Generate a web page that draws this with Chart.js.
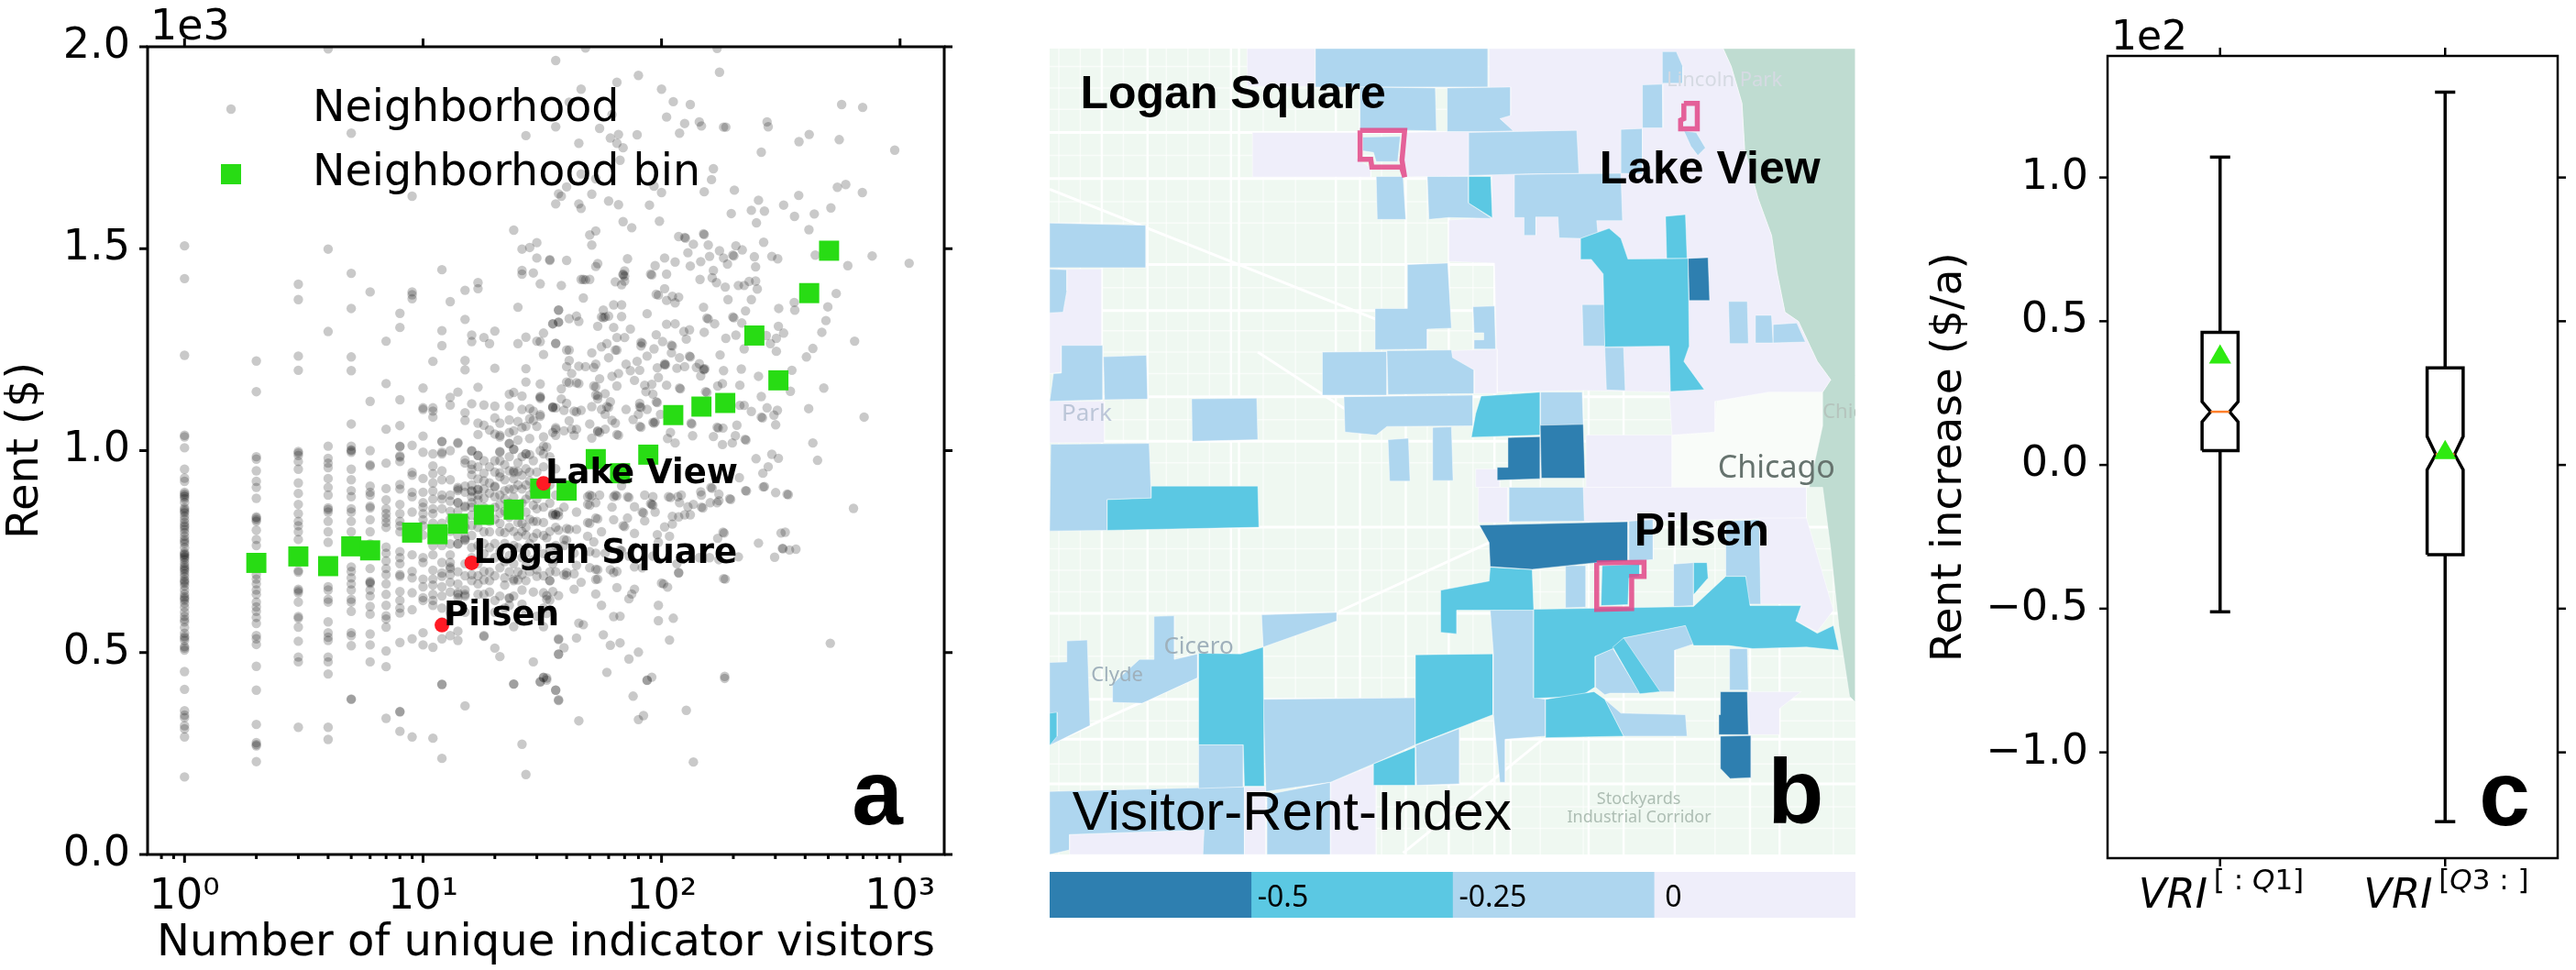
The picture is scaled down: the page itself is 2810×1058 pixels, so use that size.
<!DOCTYPE html>
<html>
<head>
<meta charset="utf-8">
<title>Rent and visitors</title>
<script src="https://cdn.jsdelivr.net/npm/chart.js@4/dist/chart.umd.min.js"></script>
<style>
  html, body { margin: 0; background: #fff; }
  canvas { position: absolute; display: block; }
</style>
</head>
<body>
<canvas id="scatterChart" width="1110" height="1058" style="left:0;top:0"></canvas>
<canvas id="mapChart" width="879" height="879" style="left:1145px;top:53px"></canvas>
<canvas id="scaleChart" width="879" height="50" style="left:1145px;top:951px"></canvas>
<canvas id="boxChart" width="730" height="1058" style="left:2080px;top:0"></canvas>
<script>
// ---------------------------panel a data------------------------------------------------
// rent ($) of neighborhoods with a low count of visitors, one list per count
const rentAt1 = [1507,1426,1236,1038,1034,1007,954,932,924,897,893,889,886,881,872,858,854,850,846,838,830,822,815,811,805,797,788,780,775,770,760,748,744,742,738,735,730,722,715,710,706,702,695,688,680,676,672,665,655,645,638,634,630,622,612,600,590,582,576,562,548,540,536,530,515,511,506,453,409,356,345,339,319,311,291,192];
const rentAt2 = [1222,1146,985,979,950,924,909,882,836,833,829,825,803,780,765,693,682,670,655,644,625,613,602,587,572,542,534,520,466,407,322,277,272,269,230];
const rentAt3 = [1412,1374,1234,1199,998,994,988,973,954,920,894,867,844,825,814,799,780,703,699,657,653,648,625,589,585,563,528,489,477,315];
const rentAt4 = [1995,1499,1295,1011,981,969,958,931,909,890,858,854,848,825,799,773,663,655,632,625,576,549,538,530,489,477,447,315,285];
const rentAt5 = [1786,1439,1352,1232,1198,1066,1011,1002,996,1000,954,928,901,886,856,848,825,799,765,712,701,685,670,655,632,625,602,549,542,517,385,384];
const rentAt6 = [1393,1122,1000,965,962,912,897,890,862,858,829,799,769,708,676,674,671,655,640,614,595,546,519,477];
const rentAt7 = [1271,1166,1053,969,906,878,856,844,833,822,810,761,746,727,708,693,670,644,617,591,583,563,504,465,337];
const rentAt8 = [1340,1305,1126,1062,1010,987,1011,984,973,916,905,867,844,825,814,799,750,735,720,693,689,651,629,610,598,525,354,353,305];
const rentAt9 = [1630,1393,1386,1376,1013,946,939,897,886,848,742,701,685,648,606,534,291];
const rentAt10 = [1155,1106,1102,1036,996,931,897,871,860,844,829,814,791,735,723,682,663,636,629,549,519];
const rentAt11 = [1221,1106,1098,1083,992,962,943,920,900,880,856,844,820,795,765,742,704,682,667,644,629,617,513,288];
const rentAt12 = [1448,1297,1260,1023,992,1022,996,950,928,890,880,856,820,800,765,723,697,689,663,640,610,576,534,421,238,421];
const rentAt13 = [1369,1132,1113,1000,928,890,875,850,830,800,769,742,723,712,693,674,650,598,542];
const rentAt14 = [1145,1020,1018,909,901,871,850,830,790,769,700,670,648,636,553,530];
const rentAt15 = [1397,1325,1223,1200,1094,1075,977,969,912,897,863,860,830,810,784,720,690,655,640,600,368];
const lowCounts = [1,2,3,4,5,6,7,8,9,10,11,12,13,14,15];
const lowCountRents = [rentAt1,rentAt2,rentAt3,rentAt4,rentAt5,rentAt6,rentAt7,rentAt8,rentAt9,rentAt10,rentAt11,rentAt12,rentAt13,rentAt14,rentAt15];

const cloudTop = [[48,1997],[171,1996],[36,1966],[65,1912],[80,1929],[175,1937],[46,1895],[100,1895],[112,1864],[132,1857],[41,1863],[62,1832],[105,1826],[36,1802],[55,1798],[66,1783],[79,1782],[61,1774],[65,1761],[45,1761],[69,1750],[125,1810],[144,1814],[147,1804],[119,1786],[182,1801],[186,1801],[277,1814],[280,1802],[569,1857],[697,1850],[416,1783],[377,1765],[556,1770],[262,1739],[950,1744],[67,1719],[46,1685],[53,1673],[165,1698],[162,1671],[202,1645],[151,1641],[93,1655],[100,1639],[40,1653],[37,1636],[38,1630],[36,1611],[45,1611],[46,1600],[51,1635],[60,1618],[66,1609],[89,1608],[27,1780]];
const cloudUpper = [[69,1567],[75,1552],[98,1568],[255,1620],[238,1595],[270,1593],[196,1587],[250,1564],[325,1608],[361,1580],[437,1586],[513,1601],[376,1632],[546,1652],[592,1659],[695,1639],[415,1547],[53,1544],[50,1534],[51,1509],[118,1530],[125,1528],[126,1526],[150,1537],[151,1535],[136,1511],[157,1509],[129,1490],[175,1495],[205,1507],[218,1497],[199,1484],[201,1482],[182,1477],[159,1481],[189,1462],[245,1480],[268,1516],[290,1481],[307,1475],[441,1484],[248,1455],[604,1458],[764,1482],[1092,1464],[40,1471],[34,1471],[72,1475],[54,1463],[53,1456],[103,1477],[114,1467],[94,1458],[146,1468],[132,1457],[165,1446],[70,1445],[69,1437],[69,1435],[70,1432],[90,1437],[91,1435],[105,1437],[46,1424],[47,1424],[48,1423],[50,1424],[64,1418],[68,1411],[70,1420],[38,1409],[145,1424],[163,1428],[170,1416],[185,1405],[210,1409],[222,1409],[233,1419],[248,1420],[252,1400],[103,1401],[95,1387],[97,1385],[111,1382],[118,1380],[105,1372],[114,1366],[47,1378],[190,1374],[238,1374],[540,1389],[360,1367],[362,1348],[310,1352],[498,1356],[37,1348],[63,1361],[68,1361],[57,1348],[44,1333],[41,1327],[45,1320],[37,1318],[35,1314],[56,1331],[57,1329],[58,1331],[60,1333],[68,1332],[87,1339],[150,1355],[155,1328],[157,1326],[199,1331],[201,1329],[225,1346],[217,1316],[167,1314],[105,1313],[114,1314],[489,1322],[309,1308],[54,1308],[63,1305],[74,1301]];
const cloudLeft = [[16,1286],[16,1270],[17,1416],[17,1401],[18,1280],[19,1265],[20,1296],[20,1204],[17,1157],[16,1116],[18,1113],[20,1110],[23,1110],[23,1140],[24,1144],[26,1135],[27,1170],[27,1203],[31,1165],[32,1238],[25,1265],[27,1281],[30,1271],[31,1270],[32,1291],[35,1314],[36,1265],[37,1318],[24,1546],[26,1499],[28,1503],[30,1515],[30,1477],[34,1473],[26,1446],[26,1437],[29,1440],[31,1413],[25,1355],[37,1348],[17,1068],[18,1063],[19,1051],[20,1081],[21,1068],[23,1076],[20,1041],[21,1038],[21,1034],[23,1045],[24,1049],[25,1072],[26,1057],[27,1060],[25,1026],[28,1030],[23,1017],[24,1004],[21,998],[17,1040],[16,999],[17,988],[27,992],[31,1000],[32,1034],[36,1057],[36,1038],[26,1102],[28,1104],[29,1098],[28,1079],[31,1134],[31,1132],[31,1129],[31,1089],[31,1085],[35,1108],[35,1106],[30,1060],[29,1075]];
const cloudMiddle = [[95,1287],[124,1295],[131,1299],[151,1293],[186,1278],[205,1286],[275,1285],[325,1291],[303,1278],[470,1293],[645,1271],[286,1265],[303,1246],[431,1253],[405,1232],[222,1252],[36,1266],[41,1249],[40,1249],[51,1242],[56,1257],[59,1265],[64,1249],[65,1249],[65,1280],[70,1280],[82,1268],[83,1266],[82,1259],[93,1252],[101,1270],[110,1261],[111,1259],[110,1242],[127,1276],[119,1230],[131,1234],[132,1232],[176,1237],[87,1234],[60,1230],[41,1223],[40,1208],[45,1209],[48,1208],[52,1206],[53,1214],[71,1214],[79,1221],[74,1198],[81,1199],[96,1205],[103,1215],[104,1213],[103,1212],[116,1204],[125,1208],[140,1206],[144,1215],[150,1202],[151,1200],[152,1203],[146,1185],[182,1198],[216,1202],[255,1184],[352,1199],[42,1191],[62,1184],[66,1191],[55,1178],[40,1170],[41,1168],[44,1168],[45,1166],[38,1153],[52,1160],[53,1158],[65,1160],[77,1174],[85,1162],[91,1164],[97,1181],[105,1162],[119,1155],[120,1153],[172,1160],[180,1166],[213,1162],[262,1134],[153,1146],[155,1144],[86,1146],[92,1140],[53,1138],[54,1136],[58,1141],[54,1128],[38,1128],[61,1121],[95,1121],[96,1119],[81,1117],[40,1117],[51,1109],[56,1102],[59,1109],[60,1107],[35,1108],[36,1106],[39,1100],[43,1098],[44,1096],[46,1100],[71,1102],[81,1109],[82,1107],[87,1102],[99,1090],[58,1090],[76,1077],[62,1075],[41,1074],[80,1090],[92,1070],[93,1068],[94,1071],[81,1060],[82,1058],[50,1066],[64,1068],[36,1053],[39,1049],[42,1053],[44,1053],[35,1045],[43,1038],[54,1047],[55,1045],[54,1049],[58,1053],[65,1040],[66,1038],[51,1031],[109,1045],[106,1030],[114,1019],[133,1068],[134,1066],[135,1037],[171,1058],[173,1056],[181,1056],[207,1063],[165,1035],[204,1037],[198,1019],[180,1015],[224,1028],[226,1026],[301,1064],[213,1112],[222,1112],[238,1097],[262,1083],[265,1081],[277,1106],[296,1088],[306,1100],[414,1104],[707,1083],[347,1147],[479,1155],[431,1019],[451,976],[249,980],[290,991],[309,981],[280,960],[266,944],[212,933],[270,911],[225,901],[301,896],[340,891],[638,857],[193,881],[195,879],[174,892],[161,909],[163,907],[146,898],[147,890],[171,871],[160,871],[147,860],[149,858],[136,867],[129,861],[121,890],[107,886],[109,884],[117,886],[119,871],[92,886],[85,890],[91,867],[92,865],[90,869],[94,848],[83,848],[84,846],[85,826],[72,886],[73,884],[77,861],[72,833],[64,890],[65,888],[63,886],[68,913],[55,890],[50,890],[51,888],[49,886],[53,871],[49,867],[50,865],[44,848],[53,833],[54,831],[49,822],[50,820],[63,829],[69,814],[70,812],[62,860],[39,860],[36,841],[37,839],[40,807],[41,805],[44,805],[56,799],[49,788],[39,780],[40,778],[52,774],[67,754],[68,752],[77,795],[96,792],[108,788],[103,811],[111,818],[118,836],[125,841],[132,841],[111,837],[181,798],[183,796],[172,783],[330,798],[255,771],[323,757],[366,756],[298,736],[118,697],[182,683],[100,672],[53,681],[46,674],[39,693],[40,691],[43,695],[50,710],[54,705],[61,705],[65,701],[77,712],[83,710],[53,746],[58,746],[50,750],[73,739],[116,720],[92,739],[97,773],[144,735],[159,735],[174,730],[210,737],[44,716],[35,720],[37,758],[39,765],[43,746]];
const cloudDense = [[17,988],[16,1000],[21,996],[23,1018],[24,1003],[27,992],[28,990],[32,1011],[33,1009],[32,992],[24,950],[25,948],[24,946],[20,947],[21,945],[18,944],[16,954],[22,928],[26,939],[28,947],[30,947],[14,905],[16,901],[16,899],[17,905],[17,903],[18,882],[20,912],[20,910],[20,886],[22,901],[24,905],[17,878],[14,871],[16,871],[21,867],[27,848],[30,856],[35,844],[36,842],[35,840],[32,822],[25,822],[26,820],[21,799],[22,797],[29,825],[37,848],[18,799],[15,780],[15,778],[19,799],[25,788],[27,791],[30,795],[33,784],[37,803],[24,765],[27,746],[36,731],[14,769],[16,693],[13,708],[16,678],[17,670],[18,701],[19,678],[22,685],[24,682],[25,680],[24,678],[26,693],[27,678],[30,689],[34,678],[26,655],[22,667],[32,648],[35,651],[33,632],[14,644],[15,644],[17,644],[18,644],[20,629],[23,636],[23,634],[23,617],[24,564],[32,564],[18,542],[20,511],[21,490],[37,534],[37,496],[29,477],[32,439],[33,437],[31,428],[24,422],[36,407],[37,383],[18,540]];
const cloudCore = [[16,965],[16,940],[16,915],[16,885],[16,860],[16,840],[16,815],[16,790],[16,760],[16,735],[17,960],[17,930],[17,890],[17,855],[17,830],[17,810],[17,765],[17,720],[17,690],[18,975],[18,925],[18,905],[18,860],[18,835],[18,770],[18,745],[18,680],[19,960],[19,920],[19,895],[19,850],[19,825],[19,760],[19,700],[19,650],[20,975],[20,860],[20,830],[20,770],[20,735],[20,690],[20,600],[21,975],[21,935],[21,890],[21,845],[21,820],[21,750],[21,710],[21,640],[22,965],[22,880],[22,850],[22,770],[22,725],[22,610],[23,985],[23,950],[23,905],[23,870],[23,835],[23,810],[23,740],[23,700],[24,930],[24,885],[24,855],[24,800],[24,720],[24,640],[25,970],[25,915],[25,860],[25,760],[25,700],[26,985],[26,905],[26,870],[26,800],[26,735],[26,620],[27,955],[27,915],[27,880],[27,810],[27,715],[27,600],[28,925],[28,890],[28,830],[28,770],[28,700],[29,975],[29,905],[29,865],[29,785],[29,730],[29,650],[30,915],[30,880],[30,825],[30,760],[30,705],[30,590],[32,960],[32,895],[32,860],[32,790],[32,745],[32,690],[32,610],[34,985],[34,915],[34,870],[34,800],[34,750],[34,700],[34,630],[36,955],[36,890],[36,810],[36,765],[36,700]];
const cloudLower = [[45,573],[47,569],[57,544],[67,590],[63,589],[97,617],[97,579],[112,585],[108,531],[44,536],[37,532],[39,512],[37,496],[61,518],[67,524],[80,501],[73,484],[59,451],[91,439],[87,431],[184,441],[510,523],[317,796],[321,758],[344,754],[227,900],[336,892],[267,910],[174,876],[185,682],[118,698],[102,670],[106,662],[75,645],[77,657],[73,633],[65,661],[54,682],[53,645],[56,617],[63,698],[53,706],[40,698],[34,678],[33,641],[43,657],[37,641],[33,597],[32,438],[27,198],[26,273],[24,422],[31,427],[33,432],[36,407],[37,381],[45,331],[76,392],[80,334],[84,344],[87,432],[127,357],[136,229],[184,436]];
const cloudGroups = [cloudTop, cloudUpper, cloudLeft, cloudMiddle, cloudDense, cloudCore, cloudLower];

// neighborhood bins (green squares)
const binVisitors = [2,3,4,5,6,9,11.5,14,18,24,31,40,53,67,88,112,147,185,245,309,416,504];
const binRents = [722,738,714,763,753,797,793,819,841,854,906,901,979,944,990,1088,1109,1118,1285,1174,1390,1495];

// highlighted neighborhoods (red dots)
const hoodNames = ['Lake View', 'Logan Square', 'Pilsen'];
const hoodVisitors = [32, 16, 12];
const hoodRents = [919, 722, 568];

const visitorTicks = [1, 10, 100, 1000];
const visitorMinorTicks = [0.8,0.9,2,3,4,5,6,7,8,9,20,30,40,50,60,70,80,90,200,300,400,500,600,700,800,900];
const visitorTickLabels = ['10⁰', '10¹', '10²', '10³'];
const rentTicks = [0, 500, 1000, 1500, 2000];

// ---------------------------panel b data------------------------------------------------
const scaleLabels = ['-0.5', '-0.25', '0'];
const scaleBands = [1, 1, 1, 1];

// map outlines in map units (x 43-1541, y 72-2695, y runs downwards)
const mapLake = [[[1295,72],[1541,72],[1541,2200],[1530,2180],[1510,1950],[1495,1700],[1480,1500],[1455,1500],[1480,1300],[1480,1190],[1495,1150],[1470,1090],[1435,960],[1410,930],[1395,800],[1385,680],[1360,560],[1335,400],[1330,250],[1310,130]]];
const mapDowntown = [[[1285,1190],[1480,1190],[1480,1300],[1455,1500],[1200,1500],[1200,1330],[1280,1320]]];
const tractsZero = [
  [[860,72],[1295,72],[1310,130],[1330,250],[1335,400],[1360,560],[1385,680],[1395,800],[1410,930],[1435,960],[1470,1090],[1495,1150],[1480,1190],[1380,1190],[1280,1220],[1280,1320],[1200,1330],[1195,1190],[1035,1185],[875,1190],[870,770],[785,765],[785,630],[865,620],[865,485],[700,490],[700,345],[860,340]],
  [[420,345],[615,345],[615,430],[640,460],[640,490],[420,490]],
  [[410,72],[537,72],[537,195],[410,195]],
  [[43,790],[140,790],[140,1040],[65,1040],[65,1125],[43,1130]],
  [[43,1220],[145,1220],[145,1355],[43,1355]],
  [[790,1055],[875,1050],[875,1195],[832,1195],[832,1118],[790,1078]],
  [[1040,1330],[1200,1330],[1200,1500],[1040,1500]],
  [[835,1440],[880,1440],[880,1500],[835,1500]],
  [[840,1500],[895,1500],[895,1615],[840,1615]],
  [[1035,1500],[1450,1500],[1450,1600],[1120,1610],[1035,1612]],
  [[1360,1600],[1450,1600],[1500,1900],[1470,1970],[1430,1935],[1440,1880],[1365,1880]],
  [[1340,2165],[1440,2165],[1400,2220],[1400,2305],[1345,2305]],
  [[80,2630],[330,2615],[330,2695],[80,2695]],
  [[405,2475],[445,2475],[445,2695],[405,2695]],
  [[565,2460],[650,2400],[650,2695],[565,2695]]
];
const tractsLight = [
  [[537,72],[858,72],[858,197],[537,197]],
  [[620,197],[760,200],[762,340],[620,335]],
  [[782,200],[900,197],[900,290],[880,300],[905,340],[860,342],[782,342]],
  [[822,345],[1023,338],[1027,478],[930,480],[822,485]],
  [[625,360],[695,358],[690,440],[650,440],[645,410],[625,405]],
  [[650,488],[700,488],[705,628],[652,628]],
  [[745,488],[822,488],[822,575],[865,625],[785,622],[748,628]],
  [[907,482],[975,480],[1105,478],[1108,632],[1060,632],[1062,670],[1030,690],[990,688],[988,620],[947,620],[947,680],[925,680],[925,622],[907,622]],
  [[1182,82],[1208,82],[1220,130],[1220,185],[1182,185]],
  [[1145,190],[1182,188],[1183,330],[1145,330]],
  [[1105,335],[1145,332],[1145,480],[1105,478]],
  [[1222,340],[1245,345],[1262,395],[1248,420],[1235,390]],
  [[43,640],[222,647],[222,785],[43,785]],
  [[43,790],[75,792],[75,860],[68,930],[43,932]],
  [[708,775],[783,770],[790,982],[745,985],[745,1050],[648,1052],[648,918],[708,918]],
  [[830,912],[870,910],[872,1050],[832,1050],[832,1020],[850,1020],[850,997],[832,997]],
  [[1033,905],[1075,905],[1075,1040],[1035,1040]],
  [[1305,895],[1340,895],[1342,1032],[1307,1032]],
  [[1355,940],[1385,940],[1388,1030],[1355,1030]],
  [[1388,970],[1432,965],[1448,1027],[1388,1030]],
  [[1075,1045],[1110,1045],[1113,1185],[1078,1183]],
  [[550,1060],[670,1058],[670,1200],[550,1200]],
  [[670,1055],[790,1053],[792,1078],[832,1118],[832,1195],[672,1198]],
  [[65,1038],[142,1038],[142,1215],[43,1220],[50,1130],[65,1128]],
  [[143,1075],[223,1070],[225,1213],[145,1215]],
  [[590,1205],[830,1200],[830,1300],[670,1302],[650,1330],[592,1320]],
  [[307,1212],[428,1210],[430,1345],[308,1350]],
  [[955,1190],[1033,1190],[1035,1298],[955,1298]],
  [[45,1360],[228,1357],[232,1535],[150,1540],[150,1640],[43,1642]],
  [[672,1345],[710,1340],[713,1480],[675,1480]],
  [[755,1305],[790,1303],[793,1478],[755,1478]],
  [[897,1500],[1035,1500],[1037,1610],[897,1612]],
  [[1120,1610],[1165,1605],[1165,1735],[1120,1742]],
  [[1300,1610],[1362,1605],[1365,1880],[1340,1880],[1337,1790],[1300,1790]],
  [[1002,1755],[1040,1755],[1040,1890],[1002,1892]],
  [[1203,1750],[1240,1745],[1240,1885],[1203,1888]],
  [[437,1915],[577,1907],[577,1935],[440,2020]],
  [[237,1920],[275,1918],[275,2060],[318,2042],[318,2120],[215,2203],[160,2200],[160,2140],[210,2060],[237,2060]],
  [[75,2000],[113,1997],[118,2275],[43,2340],[43,2070],[75,2068]],
  [[862,1900],[943,1900],[943,2185],[965,2190],[965,2310],[890,2320],[890,2460],[880,2460],[868,2240],[868,2040]],
  [[1110,1990],[1228,1948],[1240,2010],[1205,2030],[1205,2165],[1175,2165],[1095,2015]],
  [[1057,2050],[1090,2025],[1140,2170],[1085,2170],[1075,2175],[1057,2150]],
  [[1075,2190],[1105,2235],[1225,2240],[1228,2310],[1110,2310]],
  [[1307,2025],[1340,2025],[1342,2160],[1307,2160]],
  [[440,2190],[723,2185],[723,2338],[645,2400],[565,2460],[445,2490]],
  [[723,2340],[805,2285],[805,2465],[725,2470]],
  [[43,2490],[320,2478],[405,2475],[405,2695],[328,2695],[330,2615],[80,2630],[80,2680],[43,2695]],
  [[320,2338],[403,2338],[403,2475],[320,2480]],
  [[447,2500],[565,2460],[565,2695],[447,2695]]
];
const tractsMid = [
  [[822,488],[863,488],[866,623],[822,575]],
  [[1188,618],[1225,612],[1228,755],[1190,755]],
  [[1030,690],[1083,657],[1105,690],[1118,757],[1230,755],[1232,1040],[1222,1090],[1260,1182],[1197,1188],[1195,1040],[1075,1043],[1072,805],[1050,758],[1030,758]],
  [[845,1203],[955,1190],[955,1330],[827,1337],[835,1260]],
  [[232,1496],[430,1496],[432,1630],[150,1640],[150,1540],[232,1535]],
  [[862,1760],[940,1768],[943,1900],[800,1900],[800,1977],[770,1972],[770,1835],[860,1805]],
  [[1070,1755],[1140,1750],[1140,1790],[1120,1795],[1118,1882],[1068,1885]],
  [[943,1897],[1240,1888],[1300,1790],[1337,1790],[1345,1885],[1440,1885],[1430,1935],[1470,1975],[1500,1950],[1510,2030],[1450,2020],[1350,2025],[1305,2015],[1240,2015],[1225,1950],[1110,1990],[1090,2025],[1057,2050],[1057,2150],[1030,2180],[943,2187]],
  [[1090,2020],[1110,1990],[1178,2165],[1140,2172]],
  [[965,2190],[1055,2165],[1075,2190],[1110,2310],[965,2315]],
  [[723,2045],[867,2042],[867,2240],[723,2338]],
  [[320,2040],[398,2042],[440,2020],[442,2473],[405,2473],[403,2338],[320,2338]],
  [[645,2400],[723,2345],[723,2470],[645,2470]],
  [[43,2235],[57,2232],[57,2310],[43,2340]],
  [[1240,1745],[1265,1745],[1267,1795],[1240,1850]]
];
const tractsDark = [
  [[1230,755],[1267,752],[1270,892],[1232,892]],
  [[895,1338],[955,1335],[955,1472],[875,1477],[875,1435],[895,1435]],
  [[955,1298],[1035,1295],[1038,1470],[957,1470]],
  [[842,1623],[1118,1612],[1118,1740],[1060,1745],[940,1767],[862,1758],[860,1680]],
  [[1290,2165],[1340,2165],[1342,2305],[1287,2305],[1287,2240],[1290,2240]],
  [[1290,2310],[1347,2308],[1347,2445],[1308,2448],[1290,2415]]
];
const hoodOutlines = [
  [[620,338],[703,338],[698,435],[703,490],[697,458],[642,458],[640,432],[620,432]],
  [[1222,250],[1247,250],[1247,333],[1216,333],[1216,305],[1222,300]],
  [[1060,1746],[1148,1744],[1148,1790],[1125,1790],[1125,1895],[1060,1897]]
];
const streetCols = [140,225,380,395,575,620,705,785,870,900,1045,1110,1205,1345,1400];
const streetRows = [345,495,775,925,1205,1350,1630,1910,2190,2320,2465];
const sideStreetCols = [60,100,180,260,300,340,440,500,660,745,830,955,1035,1280,1500];
const sideStreetRows = [130,200,270,420,570,640,850,990,1060,1130,1280,1420,1700,1770,1840,2050,2120,2260,2400,2540,2610];
const diagonalStreets = [[[43,530],[660,960]],[[430,1060],[640,1300]],[[43,2335],[320,2115]],[[580,1905],[860,1680]],[[445,2530],[940,2180]],[[700,2690],[960,2320]]];
const mapPlaces = [
  ['Chicago', 1285, 1470, 'Noto Sans', 34, '#66736e'],
  ['Lincoln Park', 1190, 195, 'Noto Sans', 22, '#d5dae2'],
  ['Park', 65, 1285, 'Noto Sans', 26, '#bcc6d8'],
  ['Chic', 1480, 1275, 'Noto Sans', 22, '#b5c4bd'],
  ['Cicero', 255, 2040, 'Noto Sans', 26, '#9fb0bb'],
  ['Clyde', 120, 2130, 'Noto Sans', 22, '#9fb0bb'],
  ['Stockyards', 1060, 2530, 'Noto Sans', 18, '#adbdb3'],
  ['Industrial Corridor', 1005, 2590, 'Noto Sans', 18, '#adbdb3']
];

// ---------------------------panel c data------------------------------------------------
const groupPositions = [1, 2];
const groupWhiskerLow = [-51.1, -124.1];
const groupQ1 = [5, -31.2];
const groupNotchLow = [15, -1.7];
const groupMedian = [18.5, 3.7];
const groupNotchHigh = [22, 9.9];
const groupQ3 = [46.1, 33.8];
const groupWhiskerHigh = [107.1, 129.7];
const groupMean = [37.5, 4.3];
const increaseTicks = [-100, -50, 0, 50, 100];
// superscript pieces: [text, italic]
const superscriptLow = [['[ : ', false], ['Q', true], ['1]', false]];
const superscriptHigh = [['[', false], ['Q', true], ['3 : ]', false]];
const groupSuperscripts = [superscriptLow, superscriptHigh];

// ---------------------------shared bits-------------------------------------------------
const FONT = "'DejaVu Sans'";
Chart.defaults.font.family = FONT;
Chart.defaults.animation = false;
Chart.defaults.plugins.legend.display = false;
Chart.defaults.plugins.tooltip.enabled = false;

const toPoints = (pairs) => pairs.map((p) => ({ x: p[0], y: p[1] }));
const closed = (pairs) => toPoints(pairs.concat([pairs[0]]));

function text(ctx, str, x, y, font, color, align) {
  ctx.save();
  ctx.font = font;
  ctx.fillStyle = color || '#000';
  ctx.textAlign = align || 'left';
  ctx.textBaseline = 'alphabetic';
  ctx.fillText(str, x, y);
  ctx.restore();
}

// box around the plot with outward tick marks
function drawFrame(chart, cfg) {
  const { ctx, chartArea: a, scales } = chart;
  ctx.save();
  ctx.strokeStyle = '#000';
  ctx.lineWidth = cfg.lineWidth;
  ctx.strokeRect(a.left, a.top, a.right - a.left, a.bottom - a.top);
  const mark = (x1, y1, x2, y2) => { ctx.beginPath(); ctx.moveTo(x1, y1); ctx.lineTo(x2, y2); ctx.stroke(); };
  cfg.xMajor.forEach((v) => {
    const x = scales.x.getPixelForValue(v);
    mark(x, a.bottom, x, a.bottom + cfg.tick);
    mark(x, a.top, x, a.top - cfg.tick);
  });
  (cfg.xMinor || []).forEach((v) => {
    const x = scales.x.getPixelForValue(v);
    mark(x, a.bottom, x, a.bottom + cfg.tick * 0.55);
  });
  cfg.yMajor.forEach((v) => {
    const y = scales.y.getPixelForValue(v);
    mark(a.left, y, a.left - cfg.tick, y);
    mark(a.right, y, a.right + cfg.tick, y);
  });
  ctx.restore();
}

// ---------------------------panel a-----------------------------------------------------
const grayPoints = [];
lowCounts.forEach((n, i) => lowCountRents[i].forEach((r) => grayPoints.push({ x: n, y: r })));
cloudGroups.forEach((g) => g.forEach((p) => grayPoints.push({ x: p[0], y: p[1] })));

new Chart(document.getElementById('scatterChart'), {
  type: 'scatter',
  data: {
    datasets: [
      { label: 'Neighborhood', data: grayPoints, order: 3, pointRadius: 5.2, pointBorderWidth: 0, backgroundColor: 'rgba(0,0,0,0.21)' },
      { label: 'Neighborhood bin', data: binVisitors.map((v, i) => ({ x: v, y: binRents[i] })), order: 2, pointStyle: 'rect', pointRadius: 15.5, pointBorderWidth: 0, backgroundColor: '#28dc14' },
      { label: 'Highlighted', data: hoodVisitors.map((v, i) => ({ x: v, y: hoodRents[i] })), order: 1, pointRadius: 8, pointBorderWidth: 0, backgroundColor: '#ff1a24' }
    ]
  },
  options: {
    responsive: false,
    devicePixelRatio: 1,
    layout: { padding: { top: 51, right: 80 } },
    scales: {
      x: {
        type: 'logarithmic', min: 0.703, max: 1532,
        grid: { display: false, drawTicks: false }, border: { display: false },
        afterBuildTicks: (s) => { s.ticks = visitorTicks.map((v) => ({ value: v })); },
        afterFit: (s) => { s.height = 126; },
        ticks: { autoSkip: false, maxRotation: 0, padding: 19, color: '#000', font: { size: 46 }, callback: (v) => visitorTickLabels[visitorTicks.indexOf(v)] },
        title: { display: true, text: 'Number of unique indicator visitors', color: '#000', font: { size: 48 }, padding: 0 }
      },
      y: {
        min: 0, max: 2000,
        grid: { display: false, drawTicks: false }, border: { display: false },
        afterBuildTicks: (s) => { s.ticks = rentTicks.map((v) => ({ value: v })); },
        afterFit: (s) => { s.width = 161; },
        ticks: { padding: 19, color: '#000', font: { size: 46 }, callback: (v) => (v / 1000).toFixed(1) },
        title: { display: true, text: 'Rent ($)', color: '#000', font: { size: 48 }, padding: 0 }
      }
    }
  },
  plugins: [{
    id: 'panelA',
    afterDraw(chart) {
      const { ctx, scales } = chart;
      drawFrame(chart, { lineWidth: 3, tick: 9, xMajor: visitorTicks, xMinor: visitorMinorTicks, yMajor: rentTicks });
      text(ctx, '1e3', 164, 43, '46px ' + FONT);
      // legend
      ctx.save();
      ctx.fillStyle = 'rgba(0,0,0,0.21)';
      ctx.beginPath(); ctx.arc(252, 119, 5.2, 0, Math.PI * 2); ctx.fill();
      ctx.fillStyle = '#28dc14';
      ctx.fillRect(241, 179, 22, 22);
      ctx.restore();
      text(ctx, 'Neighborhood', 341, 132, '47.5px ' + FONT);
      text(ctx, 'Neighborhood bin', 341, 202, '47.5px ' + FONT);
      hoodNames.forEach((name, i) => {
        const x = scales.x.getPixelForValue(hoodVisitors[i]);
        const y = scales.y.getPixelForValue(hoodRents[i]);
        text(ctx, name, x + 2, y, 'bold 37px ' + FONT);
      });
      text(ctx, 'a', 957, 899, 'bold 100px "Liberation Sans"', '#000', 'center');
    }
  }]
});

// ---------------------------panel b-----------------------------------------------------
const mapDatasets = [];
const addLine = (pairs, color, width) => mapDatasets.push({ data: toPoints(pairs), showLine: true, pointRadius: 0, borderColor: color, borderWidth: width, fill: false });
const addShape = (pairs, color) => mapDatasets.push({ data: closed(pairs), showLine: true, pointRadius: 0, borderColor: 'rgba(255,255,255,0.45)', borderWidth: 1, backgroundColor: color, fill: 'shape' });

sideStreetCols.forEach((u) => addLine([[u, 72], [u, 2695]], 'rgba(255,255,255,0.6)', 1.5));
sideStreetRows.forEach((v) => addLine([[43, v], [1541, v]], 'rgba(255,255,255,0.6)', 1.5));
streetCols.forEach((u) => addLine([[u, 72], [u, 2695]], 'rgba(255,255,255,0.9)', 2.5));
streetRows.forEach((v) => addLine([[43, v], [1541, v]], '#fff', 3));
diagonalStreets.forEach((s) => addLine(s, '#fff', 3));
mapDowntown.forEach((s) => addShape(s, '#f9fcf9'));
mapLake.forEach((s) => addShape(s, '#bfdcd1'));
tractsZero.forEach((s) => addShape(s, '#efeefa'));
tractsLight.forEach((s) => addShape(s, '#aed6ef'));
tractsMid.forEach((s) => addShape(s, '#5bc8e3'));
tractsDark.forEach((s) => addShape(s, '#2e7fb0'));
hoodOutlines.forEach((s) => mapDatasets.push({ data: closed(s), showLine: true, pointRadius: 0, borderColor: 'rgba(226,70,135,0.85)', borderWidth: 5.5, fill: false }));
mapDatasets.forEach((d, i) => { d.order = -i; });

new Chart(document.getElementById('mapChart'), {
  type: 'scatter',
  data: { datasets: mapDatasets },
  options: {
    responsive: false,
    devicePixelRatio: 1,
    scales: {
      x: { type: 'linear', display: false, min: 43, max: 1541 },
      y: { type: 'linear', display: false, min: 72, max: 2695, reverse: true }
    }
  },
  plugins: [{
    id: 'panelB',
    beforeDatasetsDraw(chart) {
      const { ctx, chartArea: a } = chart;
      ctx.save();
      ctx.fillStyle = '#eff8f1';
      ctx.fillRect(a.left, a.top, a.right - a.left, a.bottom - a.top);
      ctx.restore();
    },
    afterDraw(chart) {
      const { ctx, scales } = chart;
      const X = (u) => scales.x.getPixelForValue(u);
      const Y = (v) => scales.y.getPixelForValue(v);
      mapPlaces.forEach((p) => text(ctx, p[0], X(p[1]), Y(p[2]), p[4] + 'px "' + p[3] + '"', p[5]));
      const bold = 'bold 50px "Liberation Sans"';
      text(ctx, 'Logan Square', X(100), Y(265), bold);
      text(ctx, 'Lake View', X(1065), Y(510), bold);
      text(ctx, 'Pilsen', X(1130), Y(1688), bold);
      text(ctx, 'Visitor-Rent-Index', X(85), Y(2615), '60px "Liberation Sans"');
      text(ctx, 'b', X(1430), Y(2595), 'bold 100px "Liberation Sans"', '#000', 'center');
    }
  }]
});

// colour key under the map, one stacked bar
const bandColors = ['#2e7fb0', '#5bc8e3', '#aed6ef', '#efeefa'];
new Chart(document.getElementById('scaleChart'), {
  type: 'bar',
  data: {
    labels: ['Visitor-Rent-Index'],
    datasets: scaleBands.map((v, i) => ({ data: [v], backgroundColor: bandColors[i], barPercentage: 1, categoryPercentage: 1 }))
  },
  options: {
    indexAxis: 'y',
    responsive: false,
    devicePixelRatio: 1,
    scales: {
      x: { stacked: true, display: false, min: 0, max: scaleBands.length },
      y: { stacked: true, display: false }
    }
  },
  plugins: [{
    id: 'scaleLabels',
    afterDraw(chart) {
      const { ctx, scales } = chart;
      scaleLabels.forEach((label, i) => {
        const x = scales.x.getPixelForValue(i + 1);
        text(ctx, label, x + [7, 7, 12][i], 38, '32px "Noto Sans"');
      });
    }
  }]
});

// ---------------------------panel c-----------------------------------------------------
const BOX_HALF = 0.08, NOTCH_HALF = 0.042, CAP_HALF = 0.045;
const boxDatasets = [];
const boxLine = (points, color, width) => boxDatasets.push({ data: points, showLine: true, pointRadius: 0, borderColor: color, borderWidth: width, fill: false, order: 3 });

groupPositions.forEach((p, i) => {
  boxLine([{ x: p, y: groupQ3[i] }, { x: p, y: groupWhiskerHigh[i] }], '#000', 3.5);
  boxLine([{ x: p, y: groupQ1[i] }, { x: p, y: groupWhiskerLow[i] }], '#000', 3.5);
  boxLine([{ x: p - CAP_HALF, y: groupWhiskerHigh[i] }, { x: p + CAP_HALF, y: groupWhiskerHigh[i] }], '#000', 3.5);
  boxLine([{ x: p - CAP_HALF, y: groupWhiskerLow[i] }, { x: p + CAP_HALF, y: groupWhiskerLow[i] }], '#000', 3.5);
  boxLine([
    { x: p - BOX_HALF, y: groupQ1[i] },
    { x: p + BOX_HALF, y: groupQ1[i] },
    { x: p + BOX_HALF, y: groupNotchLow[i] },
    { x: p + NOTCH_HALF, y: groupMedian[i] },
    { x: p + BOX_HALF, y: groupNotchHigh[i] },
    { x: p + BOX_HALF, y: groupQ3[i] },
    { x: p - BOX_HALF, y: groupQ3[i] },
    { x: p - BOX_HALF, y: groupNotchHigh[i] },
    { x: p - NOTCH_HALF, y: groupMedian[i] },
    { x: p - BOX_HALF, y: groupNotchLow[i] },
    { x: p - BOX_HALF, y: groupQ1[i] }
  ], '#000', 3.5);
  boxDatasets.push({ data: [{ x: p - NOTCH_HALF, y: groupMedian[i] }, { x: p + NOTCH_HALF, y: groupMedian[i] }], showLine: true, pointRadius: 0, borderColor: '#ff7f2a', borderWidth: 2.5, order: 2 });
});
boxDatasets.push({ data: groupPositions.map((p, i) => ({ x: p, y: groupMean[i] })), pointStyle: 'triangle', pointRadius: 14, pointBorderWidth: 0, backgroundColor: '#2eea10', order: 1 });

new Chart(document.getElementById('boxChart'), {
  type: 'scatter',
  data: { datasets: boxDatasets },
  options: {
    responsive: false,
    devicePixelRatio: 1,
    layout: { padding: { top: 61, right: 20 } },
    scales: {
      x: {
        type: 'linear', min: 0.5, max: 2.5,
        grid: { display: false, drawTicks: false }, border: { display: false },
        afterBuildTicks: (s) => { s.ticks = groupPositions.map((v) => ({ value: v })); },
        afterFit: (s) => { s.height = 122; },
        ticks: { display: false }
      },
      y: {
        min: -136.8, max: 142.3,
        grid: { display: false, drawTicks: false }, border: { display: false },
        afterBuildTicks: (s) => { s.ticks = increaseTicks.map((v) => ({ value: v })); },
        afterFit: (s) => { s.width = 219; },
        ticks: { padding: 21, color: '#000', font: { size: 46 }, callback: (v) => (v / 100).toFixed(1).replace('-', '−') },
        title: { display: true, text: 'Rent increase ($/a)', color: '#000', font: { size: 47 }, padding: { top: 19, bottom: 0 } }
      }
    }
  },
  plugins: [{
    id: 'panelC',
    afterDraw(chart) {
      const { ctx, scales } = chart;
      drawFrame(chart, { lineWidth: 2.5, tick: 9, xMajor: groupPositions, yMajor: increaseTicks });
      text(ctx, '1e2', 223, 54, '44px ' + FONT);
      groupPositions.forEach((p, i) => {
        const x = scales.x.getPixelForValue(p);
        text(ctx, 'VRI', x - 89, 990, 'italic 45px ' + FONT);
        let cursor = x - 7;
        groupSuperscripts[i].forEach((piece) => {
          const font = (piece[1] ? 'italic ' : '') + '31px ' + FONT;
          text(ctx, piece[0], cursor, 970, font);
          ctx.save();
          ctx.font = font;
          cursor += ctx.measureText(piece[0]).width;
          ctx.restore();
        });
      });
      text(ctx, 'c', 652, 900, 'bold 100px "Liberation Sans"', '#000', 'center');
    }
  }]
});
</script>
</body>
</html>
